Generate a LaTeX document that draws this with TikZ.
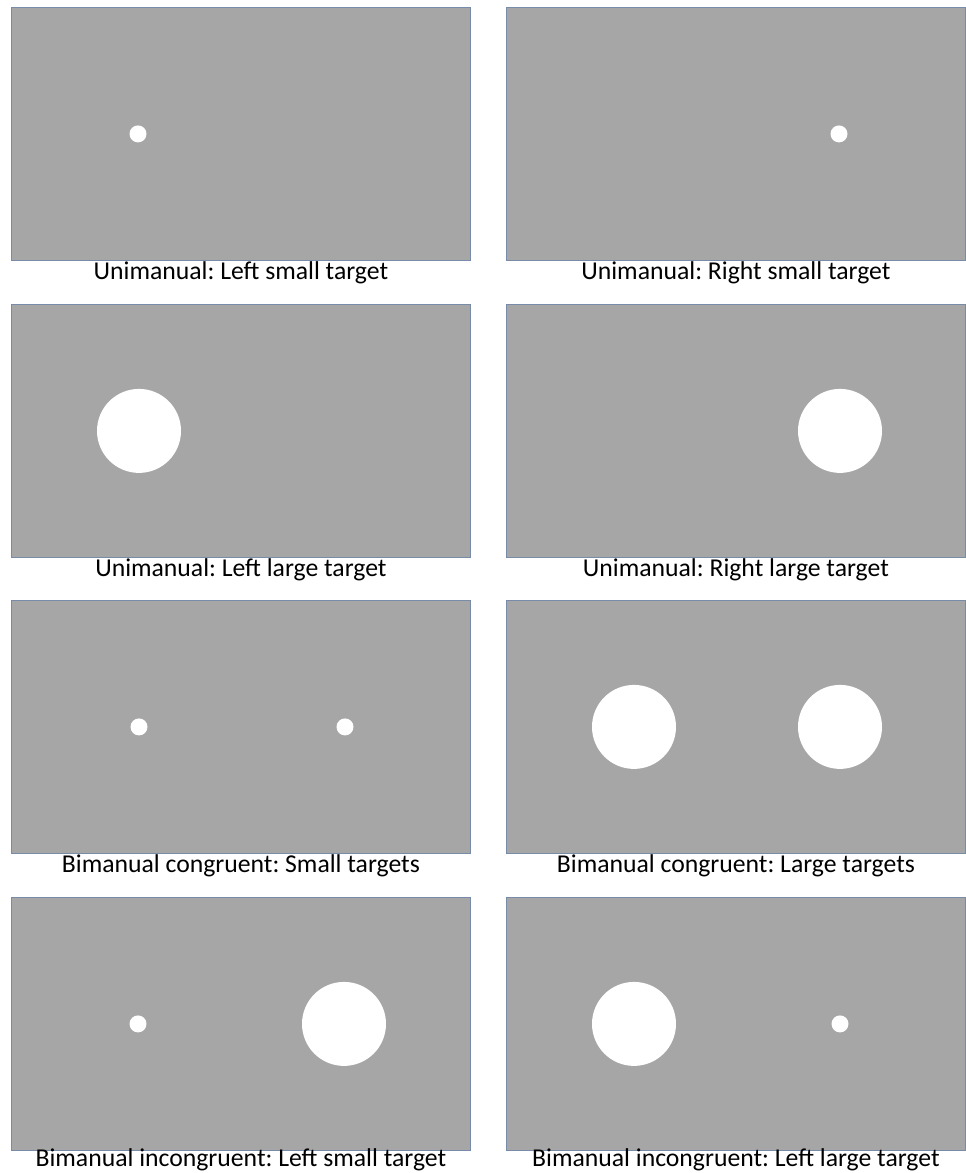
\documentclass[tikz,border=0pt]{standalone}
\usepackage{fontspec}
\setmainfont{Carlito}
\frenchspacing
\definecolor{screengray}{RGB}{166,166,166}
\definecolor{screenedge}{RGB}{120,140,170}
\tikzset{
  screen/.style={draw=screenedge,line width=0.8pt,fill=screengray,minimum width=459pt,minimum height=253pt,inner sep=0pt},
  smalltarget/.style={circle,fill=white,minimum size=17pt,inner sep=0pt},
  largetarget/.style={circle,fill=white,minimum size=84pt,inner sep=0pt},
  caption/.style={anchor=base,font=\fontsize{25.7}{30}\selectfont,inner sep=0pt}
}
\begin{document}
\begin{tikzpicture}[x=1pt,y=-1pt]
\useasboundingbox (0,0) rectangle (966,1173);
% screens
\foreach \r/\y in {1/7,2/304,3/600,4/897}{
  \node[screen,anchor=north west] (L\r) at (11,\y) {};
  \node[screen,anchor=north west] (R\r) at (506,\y) {};
}
% targets
\node[smalltarget] (L1a) at ([xshift=127pt]L1.west) {};
\node[smalltarget] (R1a) at ([xshift=333pt]R1.west) {};
\node[largetarget] (L2a) at ([xshift=128pt]L2.west) {};
\node[largetarget] (R2a) at ([xshift=334pt]R2.west) {};
\node[smalltarget] (L3a) at ([xshift=128pt]L3.west) {};
\node[smalltarget] (L3b) at ([xshift=334pt]L3.west) {};
\node[largetarget] (R3a) at ([xshift=128pt]R3.west) {};
\node[largetarget] (R3b) at ([xshift=334pt]R3.west) {};
\node[smalltarget] (L4a) at ([xshift=127pt]L4.west) {};
\node[largetarget] (L4b) at ([xshift=333pt]L4.west) {};
\node[largetarget] (R4a) at ([xshift=128pt]R4.west) {};
\node[smalltarget] (R4b) at ([xshift=334pt]R4.west) {};
% captions
\node[caption] (capL1) at ([yshift=-19pt]L1.south) {Unimanual: Left small target};
\node[caption] (capR1) at ([yshift=-19pt]R1.south) {Unimanual: Right small target};
\node[caption] (capL2) at ([yshift=-19pt]L2.south) {Unimanual: Left large target};
\node[caption] (capR2) at ([yshift=-19pt]R2.south) {Unimanual: Right large target};
\node[caption] (capL3) at ([yshift=-19pt]L3.south) {Bimanual congruent: Small targets};
\node[caption] (capR3) at ([yshift=-19pt]R3.south) {Bimanual congruent: Large targets};
\node[caption] (capL4) at ([yshift=-16pt]L4.south) {Bimanual incongruent: Left small target};
\node[caption] (capR4) at ([yshift=-16pt]R4.south) {Bimanual incongruent: Left large target};
\end{tikzpicture}
\end{document}
